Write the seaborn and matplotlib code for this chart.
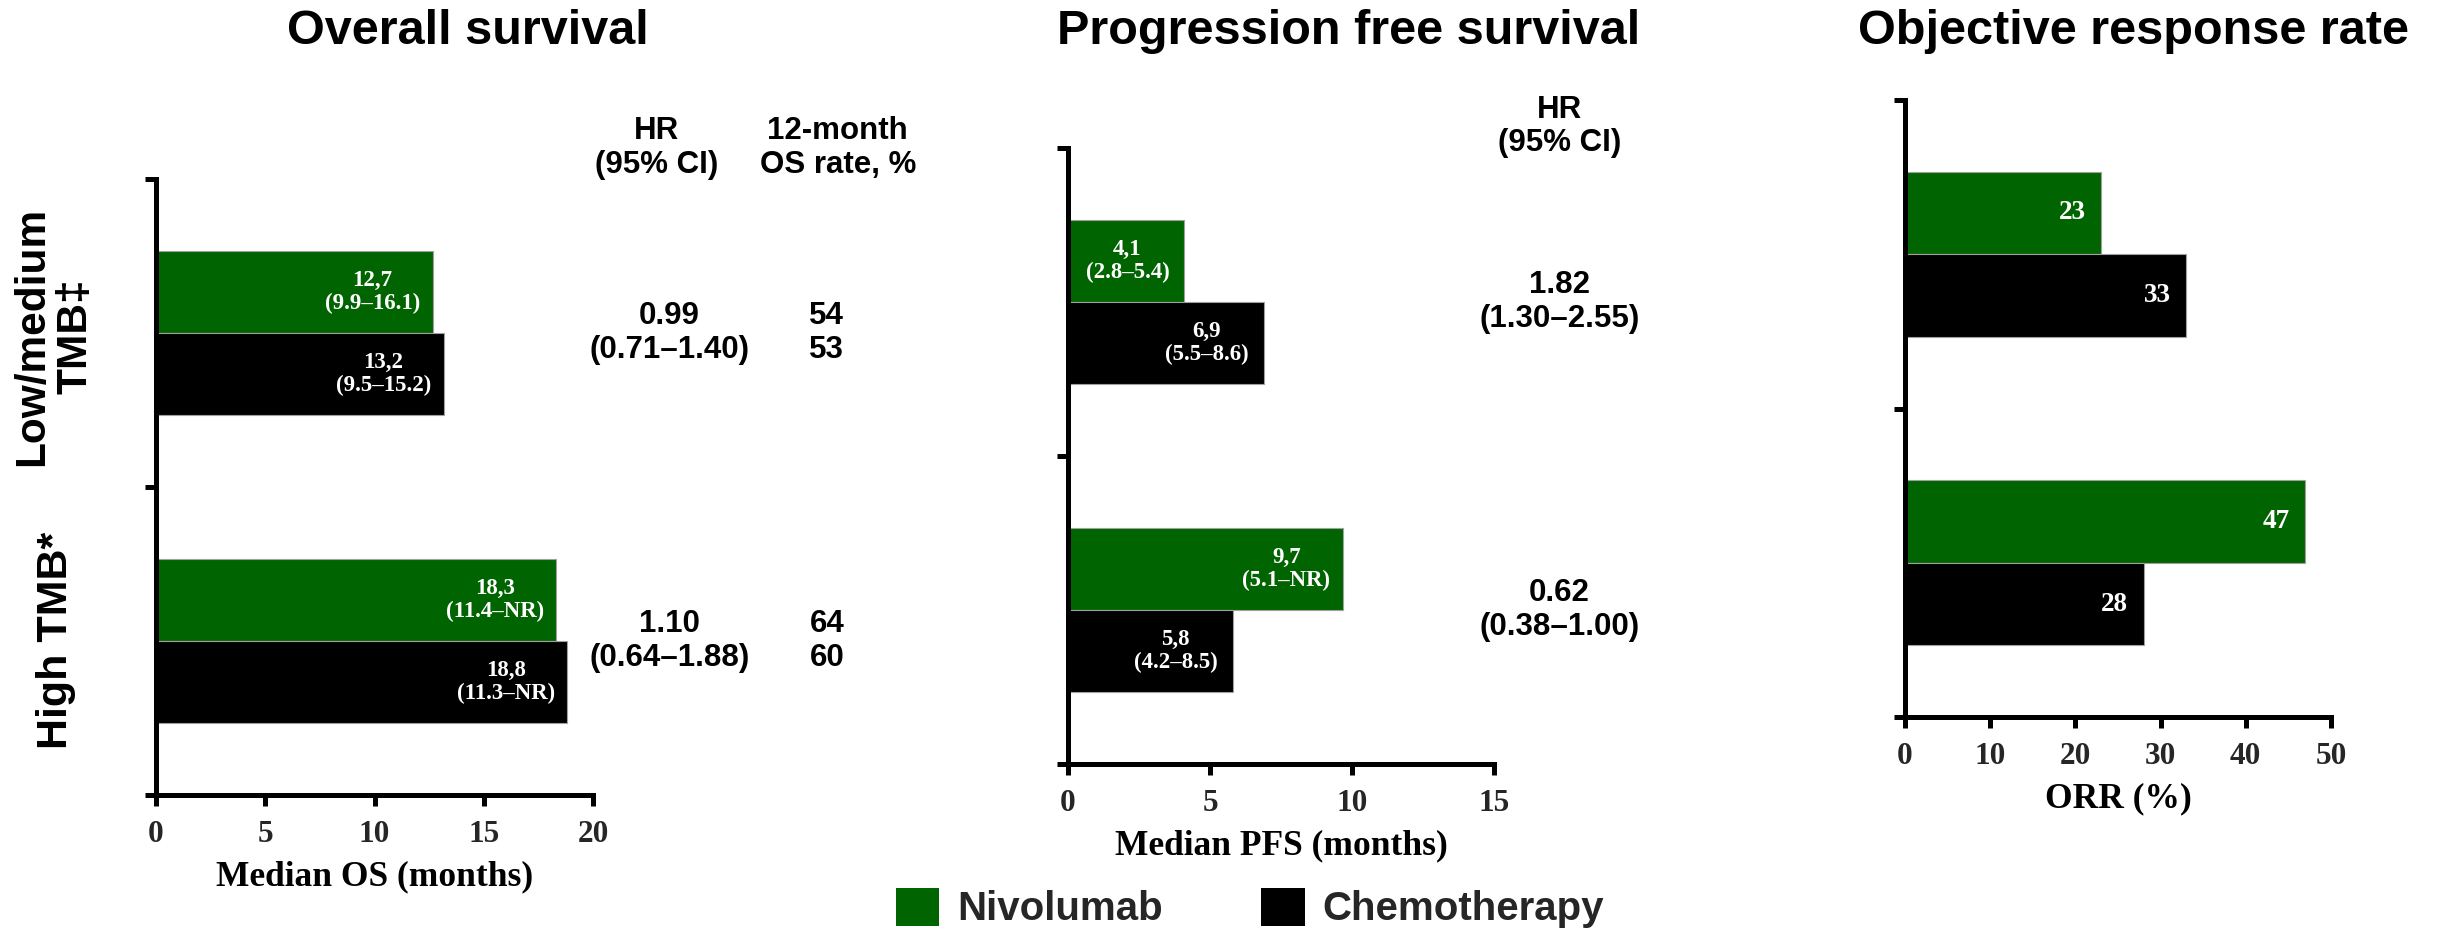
import matplotlib
matplotlib.use("Agg")
import matplotlib.pyplot as plt
import seaborn as sns
import pandas as pd
from matplotlib.patches import Patch

sns.set_theme(style="ticks")
plt.rcParams["font.family"] = ["Liberation Sans", "DejaVu Sans"]

# ---------------- data ----------------
groups = ["Low/medium\nTMB‡", "High TMB*"]
arms = ["Nivolumab", "Chemotherapy"]

os_nivo = [12.7, 18.3]
os_chemo = [13.2, 18.8]
os_nivo_ci = ["9.9–16.1", "11.4–NR"]
os_chemo_ci = ["9.5–15.2", "11.3–NR"]

pfs_nivo = [4.1, 9.7]
pfs_chemo = [6.9, 5.8]
pfs_nivo_ci = ["2.8–5.4", "5.1–NR"]
pfs_chemo_ci = ["5.5–8.6", "4.2–8.5"]

orr_nivo = [23, 47]
orr_chemo = [33, 28]

os_hr = ["0.99", "1.10"]
os_hr_ci = ["0.71–1.40", "0.64–1.88"]
os_rate_nivo = [54, 64]
os_rate_chemo = [53, 60]

pfs_hr = ["1.82", "0.62"]
pfs_hr_ci = ["1.30–2.55", "0.38–1.00"]

os_ticks = [0, 5, 10, 15, 20]
pfs_ticks = [0, 5, 10, 15]
orr_ticks = [0, 10, 20, 30, 40, 50]

titles = ["Overall survival", "Progression free survival", "Objective response rate"]
xlabels = ["Median OS (months)", "Median PFS (months)", "ORR (%)"]

GREEN = "#006400"
palette = {"Nivolumab": GREEN, "Chemotherapy": "#000000"}

W, H = 2445, 933
fig = plt.figure(figsize=(W / 100, H / 100), dpi=100)


def frac_axes(x0, x1, ytop, ybot):
    return fig.add_axes([x0 / W, 1 - ybot / H, (x1 - x0) / W, (ybot - ytop) / H])


def long_df(nivo, chemo):
    rows = []
    for g, a, b in zip(groups, nivo, chemo):
        rows.append({"group": g, "arm": "Nivolumab", "value": a})
        rows.append({"group": g, "arm": "Chemotherapy", "value": b})
    return pd.DataFrame(rows)


SERIF = ["Liberation Serif", "DejaVu Serif"]


def draw(ax, nivo, chemo, xmax, ticks, xlabel, labels, label_size, offset_px):
    df = long_df(nivo, chemo)
    sns.barplot(data=df, y="group", x="value", hue="arm", order=groups,
                hue_order=arms, palette=palette, orient="h", width=0.535,
                linewidth=0.8, edgecolor="#a0a0a0", saturation=1,
                legend=False, ax=ax)
    sns.despine(ax=ax)
    for s in ("left", "bottom"):
        ax.spines[s].set_linewidth(3.6)
        ax.spines[s].set_color("black")
        ax.spines[s].set_zorder(5)
    ax.set_ylim(1.5, -0.5)
    ax.set_yticks([-0.5, 0.5, 1.5])
    ax.set_yticklabels([])
    ax.set_ylabel("")
    ax.set_xlim(0, xmax)
    ax.set_xticks(ticks)
    ax.set_xticklabels([str(t) for t in ticks], fontfamily=SERIF,
                       fontweight="bold", fontsize=22.5)
    ax.tick_params(axis="both", length=8, width=3.6, color="black", pad=10)
    ax.set_xlabel(xlabel, fontfamily=SERIF, fontweight="bold", fontsize=25.5,
                  labelpad=8, color="black")
    for cont, labs in zip(ax.containers, labels):
        for bar, lab in zip(cont, labs):
            xe = bar.get_x() + bar.get_width()
            yc = bar.get_y() + bar.get_height() / 2
            ax.annotate(lab, xy=(xe, yc), xytext=(-offset_px * 0.72, 0),
                        textcoords="offset points", ha="center", va="center",
                        color="white", fontfamily=SERIF, fontweight="bold",
                        fontsize=label_size, linespacing=1.15)


def fmt(v):
    return f"{v:.1f}".replace(".", ",")


# ---------------- OS panel ----------------
ax1 = frac_axes(156, 593, 179, 795)
draw(ax1, os_nivo, os_chemo, 20, os_ticks, xlabels[0],
     [[f"{fmt(v)}\n({c})" for v, c in zip(os_nivo, os_nivo_ci)],
      [f"{fmt(v)}\n({c})" for v, c in zip(os_chemo, os_chemo_ci)]], 16.5, 61)

tk = dict(ha="center", va="center", fontsize=22.5, fontweight="bold",
          color="black", clip_on=False, linespacing=1.15)
ax1.text(22.9, -0.6, "HR\n(95% CI)", **tk)
ax1.text(31.2, -0.6, "12-month\nOS rate, %", **tk)
for i in range(len(groups)):
    ax1.text(23.5, i, f"{os_hr[i]}\n({os_hr_ci[i]})", **tk)
    ax1.text(30.7, i, f"{os_rate_nivo[i]}\n{os_rate_chemo[i]}", **tk)

# ---------------- PFS panel ----------------
ax2 = frac_axes(1068, 1494, 148, 764)
draw(ax2, pfs_nivo, pfs_chemo, 15, pfs_ticks, xlabels[1],
     [[f"{fmt(v)}\n({c})" for v, c in zip(pfs_nivo, pfs_nivo_ci)],
      [f"{fmt(v)}\n({c})" for v, c in zip(pfs_chemo, pfs_chemo_ci)]], 16.5, 57)
ax2.text(17.3, -0.57, "HR\n(95% CI)", **tk)
for i in range(len(groups)):
    ax2.text(17.3, i, f"{pfs_hr[i]}\n({pfs_hr_ci[i]})", **tk)

# ---------------- ORR panel ----------------
ax3 = frac_axes(1905, 2331, 100, 717)
draw(ax3, orr_nivo, orr_chemo, 50, orr_ticks, xlabels[2],
     [[str(v) for v in orr_nivo], [str(v) for v in orr_chemo]], 19.5, 29)

# ---------------- titles ----------------
for txt, xc in zip(titles, [468, 1349, 2133]):
    fig.text(xc / W, 1 - 31 / H, txt, ha="center", va="center",
             fontsize=35, fontweight="bold", color="black")

# ---------------- group labels ----------------
fig.text(54 / W, 1 - 336 / H, groups[0], rotation=90, ha="center", va="center",
         multialignment="center", fontsize=30.5, fontweight="bold",
         color="black", linespacing=1.1)
fig.text(56 / W, 1 - 640 / H, groups[1], rotation=90, ha="center", va="center",
         fontsize=31, fontweight="bold", color="black")

# ---------------- legend ----------------
handles = [Patch(facecolor=palette[a], edgecolor="none", label=a) for a in arms]
fig.legend(handles=handles, loc="center", bbox_to_anchor=(1250 / W, 1 - 908 / H),
           ncol=2, frameon=False, prop={"weight": "bold", "size": 29},
           handlelength=1.07, handleheight=1.07, handletextpad=0.45,
           columnspacing=2.45, borderaxespad=0, borderpad=0)

fig.savefig("out.png", dpi=100, facecolor="white")
